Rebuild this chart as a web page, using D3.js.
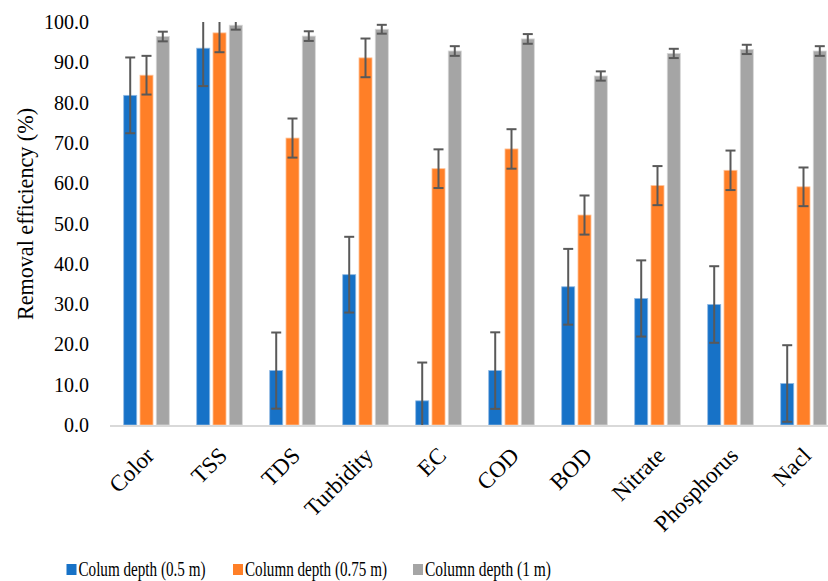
<!DOCTYPE html>
<html><head><meta charset="utf-8">
<script src="https://cdn.jsdelivr.net/npm/d3@7"></script>
<style>body{margin:0;background:#fff}svg{display:block}text{font-family:"Liberation Serif","Times New Roman",serif;fill:#000}</style>
</head><body><svg id="chart" width="828" height="581"></svg>
<script>
const categories = ["Color","TSS","TDS","Turbidity","EC","COD","BOD","Nitrate","Phosphorus","Nacl"];
const seriesNames = ["Colum depth (0.5 m)","Column depth (0.75 m)","Column depth (1 m)"];
const depth05 = [81.8, 93.5, 13.5, 37.3, 6.0, 13.5, 34.3, 31.4, 29.9, 10.3];
const err05   = [9.4, 9.4, 9.45, 9.4, 9.5, 9.5, 9.4, 9.45, 9.5, 9.5];
const depth075 = [86.8, 97.3, 71.2, 91.1, 63.6, 68.5, 52.1, 59.4, 63.2, 59.1];
const err075   = [4.8, 4.8, 4.85, 4.8, 4.8, 4.9, 4.85, 4.85, 4.9, 4.8];
const depth1 = [96.4, 99.2, 96.5, 98.2, 92.8, 95.8, 86.6, 92.2, 93.2, 92.8];
const err1   = [1.2, 1.1, 1.2, 1.1, 1.2, 1.2, 1.15, 1.15, 1.15, 1.2];
const yTicks = [0,10,20,30,40,50,60,70,80,90,100];
const colors = ["#1772c7","#ff7f27","#a5a5a5"];
const strokes = ["#8fb9e3","#ffc39a","#d6d6d6"];

const values = [depth05, depth075, depth1];
const errors = [err05, err075, err1];

const svg = d3.select("#chart");
const x0 = d3.scaleBand().domain(categories).range([110, 840]).padding(0);
const x1 = d3.scaleBand().domain(d3.range(3)).range([13.7, 59.3]).paddingInner(0.2).paddingOuter(0);
const y = d3.scaleLinear().domain([0, 100]).range([425, 22]);

svg.append("defs").append("clipPath").attr("id","plotclip")
  .append("rect").attr("x",100).attr("y",y(100)).attr("width",740).attr("height",y(0)-y(100));

// y tick labels
svg.append("g").selectAll("text").data(yTicks).join("text")
  .attr("x", 89).attr("y", d => y(d)).attr("dy","0.35em")
  .attr("text-anchor","end").style("font-size","20px")
  .text(d => d3.format(".1f")(d));

// y title
svg.append("text").attr("transform", `translate(33,214) rotate(-90)`)
  .attr("text-anchor","middle").style("font-size","24px")
  .attr("textLength", 212).attr("lengthAdjust","spacingAndGlyphs")
  .text("Removal efficiency (%)");

// bars
const g = svg.append("g");
values.forEach((vals, s) => {
  g.append("g").selectAll("rect").data(vals).join("rect")
    .attr("x", (d,i) => x0(categories[i]) + x1(s))
    .attr("y", d => y(d))
    .attr("width", x1.bandwidth())
    .attr("height", d => y(0) - y(d))
    .attr("fill", colors[s])
    .attr("stroke", strokes[s]).attr("stroke-width", 0.8);
});

// x axis line
svg.append("line").attr("x1",110).attr("x2",828).attr("y1",y(0)+1).attr("y2",y(0)+1)
  .attr("stroke","#d9d9d9").attr("stroke-width",2);

// error bars
const eg = svg.append("g").attr("clip-path","url(#plotclip)")
  .attr("stroke","#595959").attr("stroke-width",2);
values.forEach((vals, s) => {
  vals.forEach((v, i) => {
    const cx = x0(categories[i]) + x1(s) + x1.bandwidth()/2;
    const hi = y(v + errors[s][i]), lo = y(v - errors[s][i]);
    eg.append("line").attr("x1",cx).attr("x2",cx).attr("y1",hi).attr("y2",lo);
    eg.append("line").attr("x1",cx-5).attr("x2",cx+5).attr("y1",hi).attr("y2",hi);
    eg.append("line").attr("x1",cx-5).attr("x2",cx+5).attr("y1",lo).attr("y2",lo);
  });
});

// x labels
svg.append("g").selectAll("text").data(categories).join("text")
  .attr("transform", d => `translate(${x0(d) + x0.bandwidth()/2 + 9},${457}) rotate(-45)`)
  .attr("text-anchor","end").style("font-size","23px").text(d => d);

// legend
const legX = [66.5, 233, 413];
const legLen = [127, 142, 126];
const lg = svg.append("g");
seriesNames.forEach((n, s) => {
  lg.append("rect").attr("x", legX[s]).attr("y", 564).attr("width", 10).attr("height", 11).attr("fill", colors[s]);
  lg.append("text").attr("x", legX[s] + 12).attr("y", 576).style("font-size","20.5px")
    .attr("textLength", legLen[s]).attr("lengthAdjust","spacingAndGlyphs").text(n);
});
</script></body></html>
